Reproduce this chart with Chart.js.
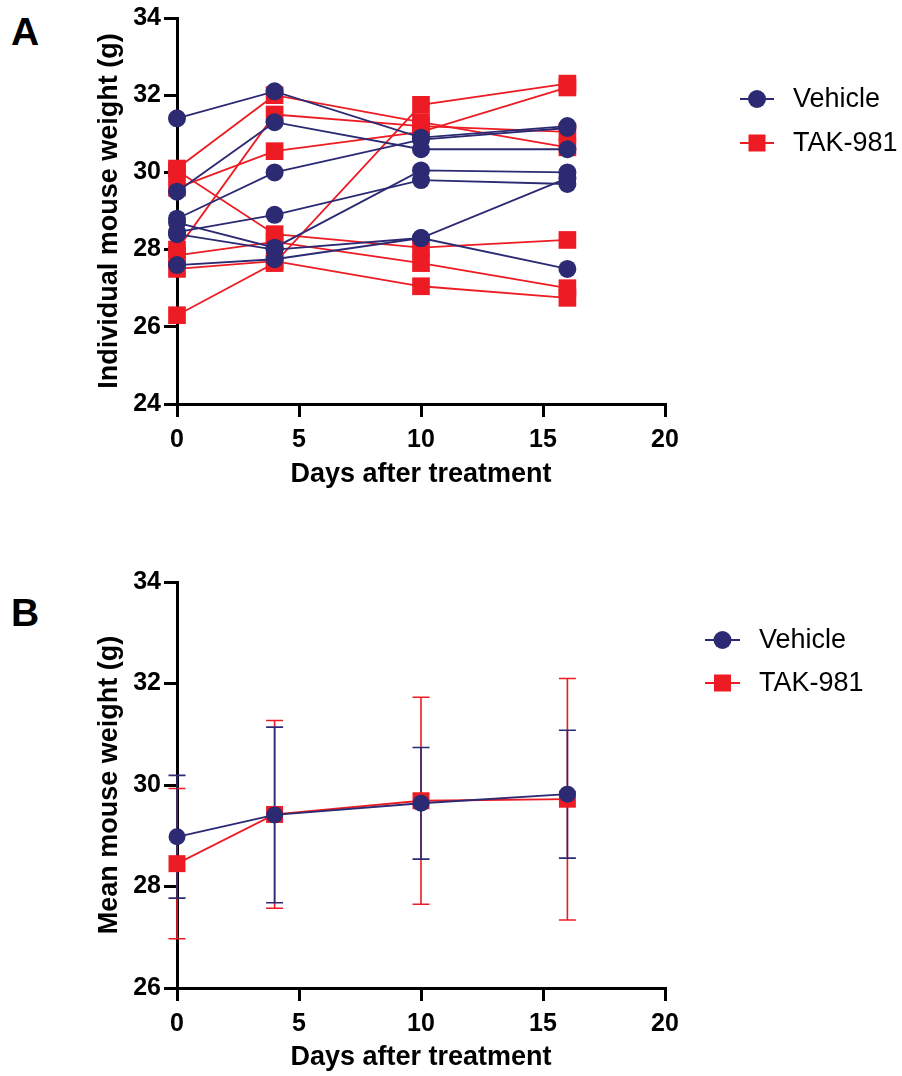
<!DOCTYPE html>
<html><head><meta charset="utf-8">
<script src="https://cdn.jsdelivr.net/npm/chart.js@4.4.1/dist/chart.umd.min.js"></script>
<style>
html,body{margin:0;padding:0;background:#fff;width:902px;height:1076px;overflow:hidden;}
#wa{position:absolute;left:0;top:0;width:902px;height:500px;}
#wb{position:absolute;left:0;top:564px;width:902px;height:512px;}
.lbl{position:absolute;font:bold 39px "Liberation Sans",Arial,sans-serif;color:#000;line-height:44px;}
</style></head><body>
<div class="lbl" style="left:11px;top:10px">A</div>
<div class="lbl" style="left:11px;top:591px">B</div>
<div id="wa"><canvas id="ca"></canvas></div>
<div id="wb"><canvas id="cb"></canvas></div>
<script>
// ---- data ----
const days = [0, 4, 10, 16];
const seriesNames = ['Vehicle', 'TAK-981'];
const xTitle = 'Days after treatment';
const yTitleA = 'Individual mouse weight (g)';
const yTitleB = 'Mean mouse weight (g)';
const xTicks = [0, 5, 10, 15, 20];
const yTicksA = [24, 26, 28, 30, 32, 34];
const yTicksB = [26, 28, 30, 32, 34];
// individual mice (weights at days 0, 4, 10, 16)
const vehicleMouse1 = [31.4, 32.1, 30.9, 31.2];
const vehicleMouse2 = [29.5, 31.3, 30.6, 30.6];
const vehicleMouse3 = [28.8, 30.0, 30.85, 31.15];
const vehicleMouse4 = [28.7, 28.05, 30.05, 30.0];
const vehicleMouse5 = [28.45, 28.9, 29.8, 29.7];
const vehicleMouse6 = [28.4, 28.0, 28.3, 29.85];
const vehicleMouse7 = [27.6, 27.75, 28.3, 27.5];
const takMouse1 = [30.1, 32.0, 31.3, 30.65];
const takMouse2 = [30.05, 28.4, 28.05, 28.25];
const takMouse3 = [29.6, 30.55, 31.05, 32.2];
const takMouse4 = [28.0, 31.5, 31.2, 31.05];
const takMouse5 = [27.85, 28.2, 27.65, 27.0];
const takMouse6 = [27.5, 27.7, 27.05, 26.75];
const takMouse7 = [26.3, 27.65, 31.75, 32.3];
// group means and SD
const vehicleMean = [28.98, 29.41, 29.64, 29.82];
const vehicleSD = [1.21, 1.73, 1.10, 1.26];
const takMean = [28.45, 29.42, 29.69, 29.72];
const takSD = [1.48, 1.85, 2.04, 2.38];

// ---- styles ----
const FONT = '"Liberation Sans", Arial, Helvetica, sans-serif';
const NAVY = '#2B2A73';
const RED = '#ED1C24';
const vehicleMice = [vehicleMouse1, vehicleMouse2, vehicleMouse3, vehicleMouse4, vehicleMouse5, vehicleMouse6, vehicleMouse7];
const takMice = [takMouse1, takMouse2, takMouse3, takMouse4, takMouse5, takMouse6, takMouse7];

function pts(vals) { return days.map((d, i) => ({x: d, y: vals[i]})); }

function seriesStyle(g) {
  return g === 0
    ? {borderColor: NAVY, backgroundColor: NAVY, pointStyle: 'circle', pointRadius: 9, pointHoverRadius: 9}
    : {borderColor: RED, backgroundColor: RED, pointStyle: 'rect', pointRadius: 12.5, pointHoverRadius: 12.5};
}

function scales(yTicks, yTitle, xHeight, xTitlePadBottom) {
  return {
    x: {
      type: 'linear', min: xTicks[0], max: xTicks[xTicks.length - 1],
      afterBuildTicks: s => { s.ticks = xTicks.map(v => ({value: v})); },
      grid: {drawOnChartArea: false, drawTicks: true, tickLength: 13, color: '#000', lineWidth: 3},
      border: {display: true, color: '#000', width: 3},
      ticks: {color: '#000', font: {family: FONT, size: 25, weight: 'bold'}, padding: 8, maxRotation: 0, autoSkip: false},
      title: {display: true, text: xTitle, color: '#000', font: {family: FONT, size: 27, weight: 'bold'}, padding: {top: 0, bottom: xTitlePadBottom}},
      afterFit: s => { s.height = xHeight; }
    },
    y: {
      type: 'linear', min: yTicks[0], max: yTicks[yTicks.length - 1],
      afterBuildTicks: s => { s.ticks = yTicks.map(v => ({value: v})); },
      grid: {drawOnChartArea: false, drawTicks: true, tickLength: 13, color: '#000', lineWidth: 3},
      border: {display: true, color: '#000', width: 3},
      ticks: {color: '#000', font: {family: FONT, size: 25, weight: 'bold'}, padding: 3, autoSkip: false},
      title: {display: true, text: yTitle, color: '#000', font: {family: FONT, size: 27, weight: 'bold'}, padding: {top: 93, bottom: 0}},
      afterFit: s => { s.width = 177; }
    }
  };
}

function legendPlugin(cfg) {
  return {
    id: 'customLegend',
    afterDraw(chart) {
      const ctx = chart.ctx;
      ctx.save();
      seriesNames.forEach((name, g) => {
        const st = seriesStyle(g);
        const y = cfg.y0 + g * cfg.dy;
        const cx = (cfg.x1 + cfg.x2) / 2;
        ctx.strokeStyle = st.borderColor; ctx.lineWidth = 1.8;
        ctx.beginPath(); ctx.moveTo(cfg.x1, y); ctx.lineTo(cfg.x2, y); ctx.stroke();
        ctx.fillStyle = st.backgroundColor;
        if (g === 0) { ctx.beginPath(); ctx.arc(cx, y, 9, 0, Math.PI * 2); ctx.fill(); }
        else { ctx.fillRect(cx - 8.5, y - 8.5, 17, 17); }
        ctx.fillStyle = '#000';
        ctx.font = '27px ' + FONT;
        ctx.textAlign = 'left'; ctx.textBaseline = 'middle';
        ctx.fillText(name, cfg.tx, y + 1);
      });
      ctx.restore();
    }
  };
}

const errorBars = {
  id: 'errorBars',
  beforeDatasetsDraw(chart) {
    const {ctx, scales: {x, y}} = chart;
    const n = chart.data.datasets.length;
    for (let i = n - 1; i >= 0; i--) {
      const ds = chart.data.datasets[i];
      if (!ds.sd) continue;
      ctx.save();
      ctx.strokeStyle = ds.borderColor; ctx.lineWidth = 1.6;
      ds.data.forEach((p, j) => {
        const px = x.getPixelForValue(p.x);
        const top = y.getPixelForValue(p.y + ds.sd[j]);
        const bot = y.getPixelForValue(p.y - ds.sd[j]);
        ctx.beginPath();
        ctx.moveTo(px, top); ctx.lineTo(px, bot);
        ctx.moveTo(px - 8.5, top); ctx.lineTo(px + 8.5, top);
        ctx.moveTo(px - 8.5, bot); ctx.lineTo(px + 8.5, bot);
        ctx.stroke();
      });
      ctx.restore();
    }
  }
};

const common = {
  responsive: true, maintainAspectRatio: false, animation: false, events: [],
  plugins: {legend: {display: false}, tooltip: {enabled: false}}
};

// ---- Chart A ----
const dsA = [];
vehicleMice.forEach(m => dsA.push(Object.assign({label: seriesNames[0], data: pts(m), borderWidth: 1.8, pointBorderWidth: 0, clip: false}, seriesStyle(0))));
takMice.forEach(m => dsA.push(Object.assign({label: seriesNames[1], data: pts(m), borderWidth: 1.8, pointBorderWidth: 0, clip: false}, seriesStyle(1))));

new Chart(document.getElementById('ca'), {
  type: 'line',
  data: {datasets: dsA},
  options: Object.assign({}, common, {
    layout: {padding: {top: 18, right: 237, left: 0, bottom: 0}},
    scales: scales(yTicksA, yTitleA, 96, 9)
  }),
  plugins: [legendPlugin({x1: 740, x2: 774, tx: 793, y0: 99, dy: 44})]
});

// ---- Chart B ----
const dsB = [
  Object.assign({label: seriesNames[0], data: pts(vehicleMean), sd: vehicleSD, borderWidth: 1.8, pointBorderWidth: 0, clip: false}, seriesStyle(0), {pointRadius: 8.5}),
  Object.assign({label: seriesNames[1], data: pts(takMean), sd: takSD, borderWidth: 1.8, pointBorderWidth: 0, clip: false}, seriesStyle(1), {pointRadius: 12})
];

new Chart(document.getElementById('cb'), {
  type: 'line',
  data: {datasets: dsB},
  options: Object.assign({}, common, {
    layout: {padding: {top: 18, right: 237, left: 0, bottom: 0}},
    scales: scales(yTicksB, yTitleB, 88, 2)
  }),
  plugins: [errorBars, legendPlugin({x1: 705, x2: 740, tx: 759, y0: 76, dy: 43})]
});
</script>
</body></html>
